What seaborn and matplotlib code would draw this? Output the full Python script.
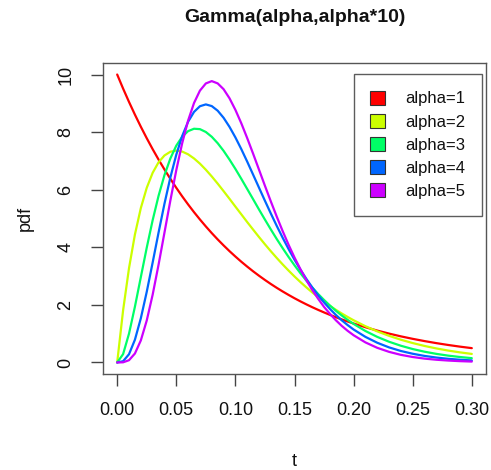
import numpy as np
import pandas as pd
import matplotlib
matplotlib.use("Agg")
import matplotlib.pyplot as plt
import seaborn as sns
from matplotlib.patches import Patch

t = [0.000, 0.005, 0.010, 0.015, 0.020, 0.025, 0.030, 0.035, 0.040, 0.045,
     0.050, 0.055, 0.060, 0.065, 0.070, 0.075, 0.080, 0.085, 0.090, 0.095,
     0.100, 0.105, 0.110, 0.115, 0.120, 0.125, 0.130, 0.135, 0.140, 0.145,
     0.150, 0.155, 0.160, 0.165, 0.170, 0.175, 0.180, 0.185, 0.190, 0.195,
     0.200, 0.21, 0.22, 0.23, 0.24, 0.25, 0.26, 0.27, 0.28, 0.29, 0.30]

alpha1 = [10.0, 9.512, 9.048, 8.607, 8.187, 7.788, 7.408, 7.047, 6.703, 6.376,
          6.065, 5.769, 5.488, 5.220, 4.966, 4.724, 4.493, 4.274, 4.066, 3.867,
          3.679, 3.499, 3.329, 3.166, 3.012, 2.865, 2.725, 2.592, 2.466, 2.346,
          2.231, 2.122, 2.019, 1.920, 1.827, 1.738, 1.653, 1.572, 1.496, 1.423,
          1.353, 1.225, 1.108, 1.003, 0.907, 0.821, 0.743, 0.672, 0.608, 0.550, 0.498]
alpha2 = [0.0, 1.810, 3.275, 4.445, 5.362, 6.065, 6.586, 6.952, 7.189, 7.319,
          7.358, 7.324, 7.229, 7.085, 6.905, 6.693, 6.461, 6.212, 5.951, 5.685,
          5.413, 5.145, 4.875, 4.614, 4.355, 4.104, 3.862, 3.629, 3.405, 3.191,
          2.987, 2.793, 2.609, 2.434, 2.269, 2.114, 1.967, 1.829, 1.700, 1.579,
          1.466, 1.260, 1.081, 0.925, 0.790, 0.674, 0.574, 0.488, 0.414, 0.351, 0.297]
alpha3 = [0.0, 0.290, 1.000, 1.937, 2.964, 3.986, 4.940, 5.787, 6.506, 7.086,
          7.530, 7.841, 8.034, 8.117, 8.103, 8.004, 7.838, 7.616, 7.350, 7.047,
          6.722, 6.378, 6.024, 5.669, 5.311, 4.961, 4.618, 4.286, 3.969, 3.664,
          3.375, 3.101, 2.844, 2.603, 2.379, 2.170, 1.976, 1.796, 1.631, 1.478,
          1.339, 1.093, 0.889, 0.720, 0.581, 0.467, 0.374, 0.299, 0.238, 0.190, 0.150]
alpha4 = [0.0, 0.044, 0.286, 0.790, 1.534, 2.453, 3.470, 4.511, 5.513, 6.427,
          7.217, 7.865, 8.361, 8.702, 8.899, 8.962, 8.904, 8.744, 8.498, 8.183,
          7.816, 7.409, 6.974, 6.522, 6.068, 5.615, 5.172, 4.742, 4.330, 3.939,
          3.570, 3.224, 2.905, 2.607, 2.335, 2.085, 1.859, 1.651, 1.464, 1.297,
          1.145, 0.889, 0.685, 0.524, 0.399, 0.303, 0.228, 0.171, 0.128, 0.095, 0.071]
alpha5 = [0.0, 0.006, 0.079, 0.311, 0.766, 1.457, 2.353, 3.396, 4.511, 5.628,
          6.680, 7.617, 8.402, 9.011, 9.441, 9.690, 9.771, 9.692, 9.491, 9.176,
          8.773, 8.306, 7.791, 7.249, 6.693, 6.135, 5.590, 5.064, 4.561, 4.087,
          3.646, 3.239, 2.863, 2.519, 2.213, 1.930, 1.687, 1.466, 1.270, 1.098,
          0.946, 0.697, 0.509, 0.369, 0.265, 0.190, 0.134, 0.095, 0.067, 0.046, 0.032]

labels = ["alpha=1", "alpha=2", "alpha=3", "alpha=4", "alpha=5"]
colors = ["#FF0000", "#CCFF00", "#00FF66", "#0066FF", "#CC00FF"]
x_ticks = [0.00, 0.05, 0.10, 0.15, 0.20, 0.25, 0.30]
x_ticklabels = ["0.00", "0.05", "0.10", "0.15", "0.20", "0.25", "0.30"]
y_ticks = [0, 2, 4, 6, 8, 10]

series = [alpha1, alpha2, alpha3, alpha4, alpha5]
df = pd.concat([pd.DataFrame({"t": t, "pdf": s, "alpha": lab})
                for s, lab in zip(series, labels)], ignore_index=True)

sns.set_style("white")
plt.rcParams["font.family"] = ["Liberation Sans", "DejaVu Sans"]

fig = plt.figure(figsize=(4.91, 4.70), dpi=100)
ax = fig.add_axes([103/491, 1-374/470, (486-103)/491, (374-63)/470])

sns.lineplot(data=df, x="t", y="pdf", hue="alpha", palette=colors,
             linewidth=1.6, ax=ax, legend=False, sort=False)

ax.set_xlim(-0.012, 0.312)
ax.set_ylim(-0.4, 10.4)
ax.set_xticks(x_ticks)
ax.set_xticklabels(x_ticklabels)
ax.set_yticks(y_ticks)
ax.set_yticklabels([str(v) for v in y_ticks], rotation=90, va="center")
ax.tick_params(axis="both", direction="out", length=8.5, width=1, color="#444444",
               labelsize=13, bottom=True, left=True, labelcolor="#111111")
ax.tick_params(axis="x", pad=12)
ax.tick_params(axis="y", pad=12)
for sp in ax.spines.values():
    sp.set_visible(True)
    sp.set_color("#555555")
    sp.set_linewidth(1)

ax.set_xlabel("t", fontsize=13, labelpad=24, color="#111111")
ax.set_ylabel("pdf", fontsize=13, labelpad=17, color="#111111")
fig.text((103+486)/2/491, 1-18/470, "Gamma(alpha,alpha*10)", ha="center", va="center",
         fontsize=14, fontweight="bold", color="#111111")

handles = [Patch(facecolor=c, edgecolor="#333333", linewidth=0.8) for c in colors]
leg = ax.legend(handles, labels, loc="upper right", bbox_to_anchor=(482/491, 1-74/470),
                bbox_transform=fig.transFigure, fontsize=12, frameon=True, fancybox=False,
                handlelength=0.9, handleheight=0.9, handletextpad=1.2, labelspacing=0.45,
                borderpad=1.0, borderaxespad=0)
for txt in leg.get_texts():
    txt.set_color("#111111")
leg.get_frame().set_edgecolor("#333333")
leg.get_frame().set_linewidth(1)

fig.savefig("out.png", dpi=100)
